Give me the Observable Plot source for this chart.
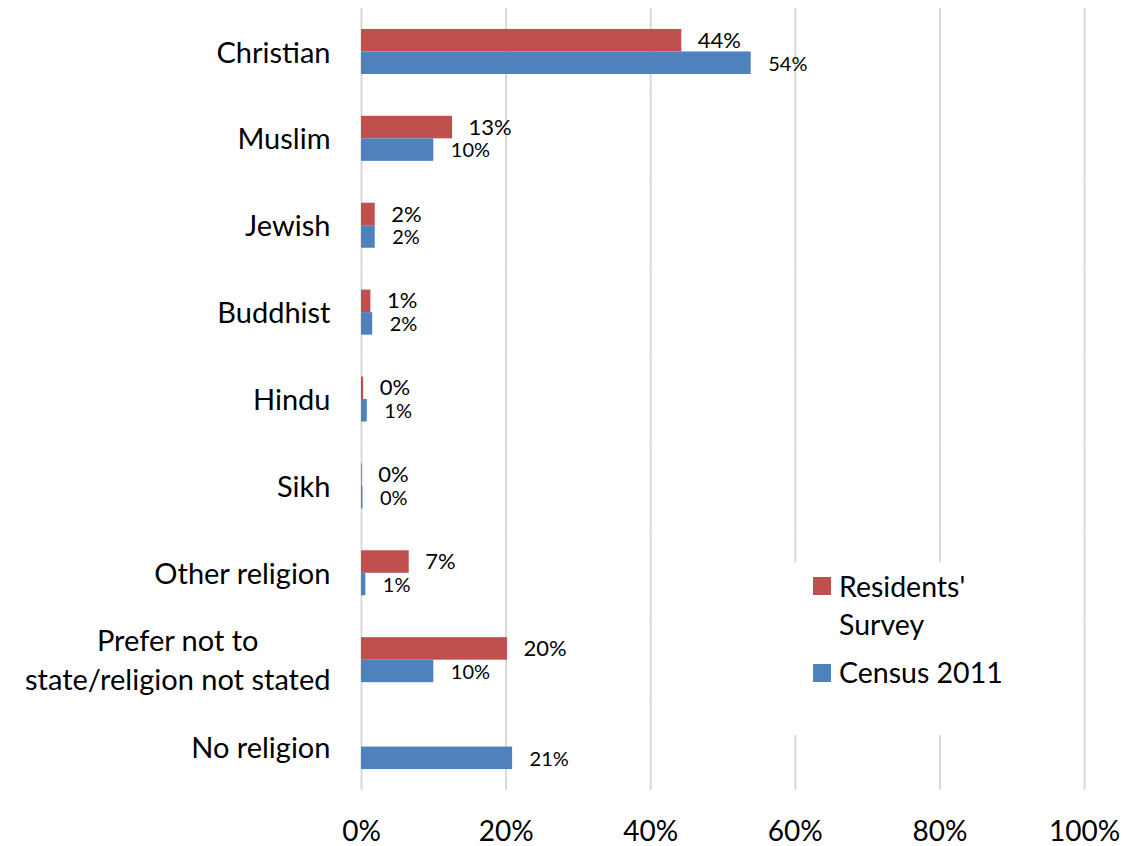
<!DOCTYPE html>
<html>
<head>
<meta charset="utf-8">
<script src="https://cdn.jsdelivr.net/npm/d3@7"></script>
<script src="https://cdn.jsdelivr.net/npm/@observablehq/plot@0.6"></script>
<style>
  html, body { margin: 0; padding: 0; background: white; }
  #wrap { position: relative; width: 1123px; height: 846px; font-family: Lato, sans-serif; }
  #legend { position: absolute; left: 782px; top: 562px; width: 240px; height: 173px; background: white; }
  #legend .sw { position: absolute; width: 18px; height: 18px; }
  #legend .lb { position: absolute; left: 57px; font-size: 28.5px; line-height: 38px; color: #000; white-space: nowrap; }
</style>
</head>
<body>
<div id="wrap"></div>
<script>
const categories = ["Christian", "Muslim", "Jewish", "Buddhist", "Hindu", "Sikh", "Other religion", "Prefer not to\nstate/religion not stated", "No religion"];
const seriesNames = ["Residents' Survey", "Census 2011"];
const seriesColors = ["#C0504D", "#4F81BD"];
const survey = [0.443, 0.126, 0.019, 0.013, 0.003, 0.001, 0.066, 0.202, null];
const census = [0.539, 0.100, 0.019, 0.0155, 0.008, 0.002, 0.006, 0.100, 0.209];
const xTicks = [0, 0.2, 0.4, 0.6, 0.8, 1.0];

const fmt = d3.format(".0%");
const rows = categories.flatMap((c, i) => [
  {category: c, series: seriesNames[0], value: survey[i]},
  {category: c, series: seriesNames[1], value: census[i]}
]).filter(d => d.value != null);

const chart = Plot.plot({
  width: 1123, height: 846,
  marginLeft: 361, marginRight: 39, marginTop: 8, marginBottom: 56,
  style: {fontFamily: "Lato, sans-serif", background: "white", color: "black"},
  x: {domain: [0, 1], label: null},
  fy: {domain: categories, padding: 0, round: false, label: null},
  y: {domain: seriesNames, paddingInner: 0, paddingOuter: 0.93, round: false, axis: null},
  color: {domain: seriesNames, range: seriesColors},
  marks: [
    Plot.gridX(xTicks, {stroke: "#D9D9D9", strokeWidth: 2, strokeOpacity: 1}),
    Plot.barX(rows, {x: "value", y: "series", fy: "category", fill: "series"}),
    Plot.text(rows.filter(d => d.series === seriesNames[0]), {
      x: "value", y: "series", fy: "category", text: d => fmt(d.value),
      textAnchor: "start", dx: 16, dy: 0, fontSize: 22, fill: "black"
    }),
    Plot.text(rows.filter(d => d.series === seriesNames[1]), {
      x: "value", y: "series", fy: "category", text: d => fmt(d.value),
      textAnchor: "start", dx: 17, dy: 1, fontSize: 20, fill: "black"
    }),
    Plot.axisX({ticks: xTicks, tickFormat: fmt, tickSize: 0, tickPadding: 31, fontSize: 28, label: null}),
    Plot.axisFy({anchor: "left", tickSize: 0, tickPadding: 31, fontSize: 29, lineHeight: 1.36, dy: -2, label: null})
  ]
});

const wrap = document.getElementById("wrap");
wrap.appendChild(chart);

// center multi-line category labels within their own block (right edge preserved)
chart.querySelectorAll("text").forEach(t => {
  const spans = t.querySelectorAll("tspan");
  if (spans.length > 1) {
    let maxW = 0;
    spans.forEach(s => { maxW = Math.max(maxW, s.getComputedTextLength()); });
    t.setAttribute("text-anchor", "middle");
    spans.forEach(s => s.setAttribute("x", -maxW / 2));
  }
});

// legend
const legend = document.createElement("div");
legend.id = "legend";
legend.innerHTML = `
  <div class="sw" style="left:31px;top:15px;background:${seriesColors[0]}"></div>
  <div class="lb" style="top:5px">Residents'<br>Survey</div>
  <div class="sw" style="left:31px;top:102px;background:${seriesColors[1]}"></div>
  <div class="lb" style="top:91px">${seriesNames[1]}</div>`;
wrap.appendChild(legend);
</script>
</body>
</html>
